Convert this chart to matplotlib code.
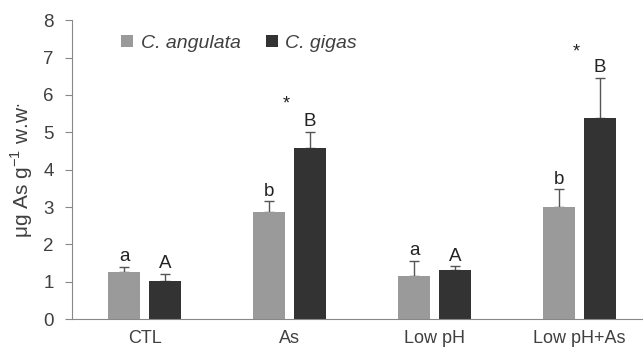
import numpy as np
import matplotlib.pyplot as plt

plt.rcParams['font.family'] = ['Liberation Sans', 'DejaVu Sans']

# Datos
tratamientos = ['CTL', 'As', 'Low pH', 'Low pH+As']
angulata = [1.25, 2.88, 1.16, 2.99]
angulata_err = [0.15, 0.27, 0.40, 0.49]
gigas = [1.02, 4.58, 1.31, 5.37]
gigas_err = [0.19, 0.44, 0.11, 1.09]
letras_angulata = ['a', 'b', 'a', 'b']
letras_gigas = ['A', 'B', 'A', 'B']
asteriscos = [None, 5.75, None, 7.15]

col_claro = '#9a9a9a'
col_oscuro = '#333333'
col_texto = '#404040'

fig = plt.figure(figsize=(6.43, 3.48), dpi=100)
ax = fig.add_axes([0.112, 0.083, 0.902, 0.859])

x = np.arange(len(tratamientos))
ancho = 0.22
desp = 0.141

ax.bar(x - desp, angulata, ancho, color=col_claro, label='C. angulata', zorder=2)
ax.bar(x + desp, gigas, ancho, color=col_oscuro, label='C. gigas', zorder=2)
ax.errorbar(x - desp, angulata, yerr=[np.zeros(4), angulata_err], fmt='none',
            ecolor='#555555', elinewidth=1, capsize=3.5, capthick=1, zorder=1)
ax.errorbar(x + desp, gigas, yerr=[np.zeros(4), gigas_err], fmt='none',
            ecolor='#555555', elinewidth=1, capsize=3.5, capthick=1, zorder=1)

for i in range(len(x)):
    ax.text(x[i] - desp, angulata[i] + angulata_err[i] + 0.04, letras_angulata[i],
            ha='center', va='bottom', fontsize=13.5, color='#222222')
    ax.text(x[i] + desp, gigas[i] + gigas_err[i] + 0.04, letras_gigas[i],
            ha='center', va='bottom', fontsize=13.5, color='#222222')
    if asteriscos[i] is not None:
        ax.text(x[i] - 0.02, asteriscos[i], '*', ha='center', va='center',
                fontsize=13, color='#222222')

ax.set_xlim(-0.5, 3.5)
ax.set_ylim(0, 8)
ax.set_yticks(range(0, 9))
ax.set_xticks(x)
ax.set_xticklabels(tratamientos)
ax.tick_params(axis='y', labelsize=13.5, colors='#888888', labelcolor=col_texto,
               direction='out', length=5, pad=8)
ax.tick_params(axis='x', labelsize=13, length=0, pad=8, labelcolor=col_texto)
ax.set_ylabel('μg As g$^{\\mathregular{-1}}$ w.w$^{.}$', fontsize=15,
              color=col_texto, labelpad=6)

for lado in ['top', 'right']:
    ax.spines[lado].set_visible(False)
ax.spines['left'].set_color('#888888')
ax.spines['bottom'].set_color('#888888')

leg = ax.legend(loc='upper left', bbox_to_anchor=(0.055, 1.01), ncol=2, frameon=False,
                prop={'style': 'italic', 'size': 14}, handlelength=0.6,
                handleheight=0.6, handletextpad=0.4, columnspacing=1.3)
for t in leg.get_texts():
    t.set_color(col_texto)

fig.savefig('out.png', dpi=100)
